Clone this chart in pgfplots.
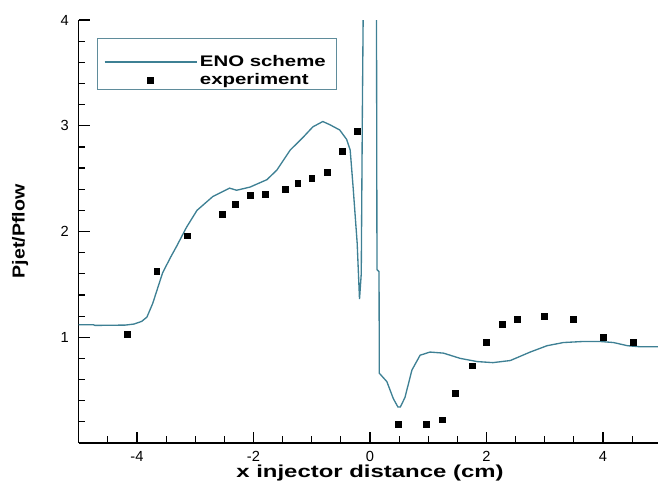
\documentclass[border=0pt]{standalone}
\usepackage{fontspec}
\setmainfont{Liberation Sans}
\usepackage{graphicx}
\usepackage{pgfplots}
\pgfplotsset{compat=1.18}
\definecolor{eno}{RGB}{62,128,148}
\definecolor{legbox}{RGB}{95,140,155}

\pgfplotsset{
  enolegend/.style={legend image code/.code={\path[draw=none,fill=none] (0pt,0pt) -- (0pt,17.5pt); \draw[##1] (0pt,0pt) -- (69pt,0pt);}},
  explegend/.style={legend image code/.code={\draw[##1, only marks] plot coordinates {(34.5pt,0pt)};}},
}

\pgfplotstableread{
x y
-5.00 1.118
-4.75 1.118
-4.72 1.112
-4.20 1.115
-4.05 1.125
-3.92 1.150
-3.83 1.190
-3.73 1.320
-3.56 1.610
-3.42 1.760
-3.32 1.860
-3.15 2.040
-2.97 2.200
-2.70 2.330
-2.41 2.410
-2.29 2.390
-2.06 2.420
-1.77 2.490
-1.60 2.580
-1.37 2.770
-1.15 2.890
-0.98 2.990
-0.81 3.040
-0.69 3.010
-0.52 2.960
-0.40 2.870
-0.34 2.770
-0.29 2.420
-0.22 1.890
-0.18 1.360
-0.15 1.600
-0.13 3.200
-0.11 4.500
 0.11 4.500
 0.12 1.640
 0.155 1.620
 0.16 0.660
 0.29 0.580
 0.40 0.420
 0.48 0.340
 0.52 0.340
 0.60 0.430
 0.72 0.690
 0.86 0.830
 1.03 0.860
 1.26 0.850
 1.55 0.800
 1.84 0.770
 2.11 0.760
 2.41 0.780
 2.75 0.860
 3.04 0.920
 3.32 0.950
 3.66 0.960
 3.95 0.960
 4.18 0.950
 4.42 0.920
 4.64 0.910
 5.00 0.910
}\enotable

\pgfplotstableread{
x y
-4.16 1.03
-3.66 1.62
-3.13 1.96
-2.53 2.16
-2.32 2.26
-2.05 2.34
-1.80 2.35
-1.46 2.40
-1.24 2.46
-1.00 2.50
-0.74 2.56
-0.48 2.76
-0.22 2.95
 0.48 0.18
 0.96 0.18
 1.24 0.22
 1.46 0.47
 1.75 0.73
 1.99 0.95
 2.27 1.12
 2.53 1.17
 2.99 1.20
 3.49 1.17
 4.00 1.00
 4.52 0.95
}\exptable

\begin{document}
\begin{tikzpicture}
\begin{axis}[
  name=ax,
  scale only axis,
  width=436.875pt, height=317.25pt,
  xmin=-5, xmax=5, ymin=0, ymax=4,
  axis lines=left,
  axis line style={-, line width=1.1pt, black},
  xtick={-4,-2,0,2,4},
  ytick={1,2,3,4},
  minor xtick={-4.5,-3.5,-3,-2.5,-1.5,-1,-0.5,0.5,1,1.5,2.5,3,3.5,4.5},
  minor ytick={0.2,0.4,0.6,0.8,1.2,1.4,1.6,1.8,2.2,2.4,2.6,2.8,3.2,3.4,3.6,3.8},
  tick align=inside,
  major tick length=8.5pt, minor tick length=5pt,
  every tick/.style={black, line width=0.9pt},
  tick label style={font=\fontsize{11}{13}\selectfont, black},
  /pgf/number format/assume math mode=true,
  xticklabel style={yshift=-3pt},
  yticklabel style={xshift=-4pt},
  xlabel={\scalebox{1.38}[1]{x injector distance (cm)}},
  ylabel={\scalebox{1.13}[1]{Pjet/Pflow}},
  x label style={at={(axis description cs:0.5,-0.0804)}, anchor=base,
    font=\fontsize{13}{15}\selectfont\bfseries},
  y label style={at={(axis description cs:-0.1007,0.5)}, anchor=center,
    font=\fontsize{13}{15}\selectfont\bfseries},
  legend style={at={(axis description cs:0.0309,0.9574)}, anchor=north west,
    draw=legbox, line width=0.8pt,
    font=\fontsize{11.5}{13}\selectfont\bfseries,
    inner xsep=5pt, inner ysep=0pt,
    row sep=0pt},
  legend cell align=left,
]
\addplot[eno, line width=1pt, enolegend] table[x=x,y=y] {\enotable};
\addlegendentry{\scalebox{1.33}[1]{ENO scheme}\hspace*{1pt}}
\addplot[only marks, mark=square*, mark size=2.2pt, black, explegend] table[x=x,y=y] {\exptable};
\addlegendentry{\scalebox{1.33}[1]{experiment}}
\end{axis}
\pgfresetboundingbox
\path[use as bounding box] ([shift={(-59.06pt,-30pt)}]ax.south west) rectangle ++(493.5pt,362.25pt);
\end{tikzpicture}
\end{document}
